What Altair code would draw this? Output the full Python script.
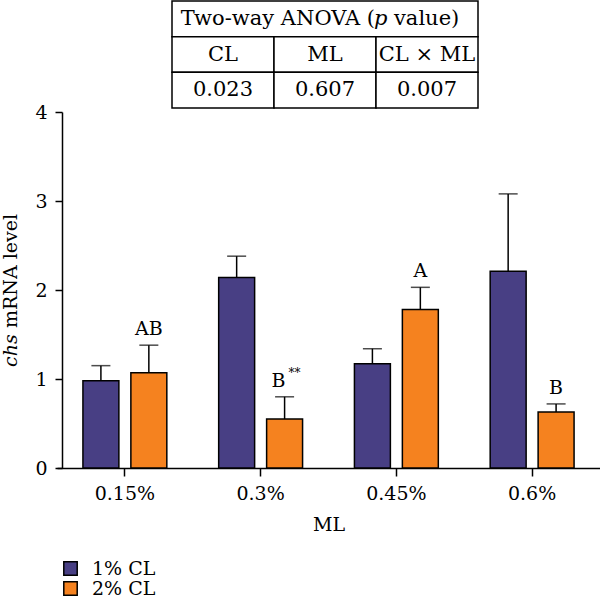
import altair as alt
import pandas as pd

# ---- data ----
ml_levels = ["0.15%", "0.3%", "0.45%", "0.6%"]
cl_groups = ["1% CL", "2% CL"]
mean_cl1 = [0.98, 2.14, 1.17, 2.21]
sem_cl1 = [0.17, 0.24, 0.17, 0.87]
mean_cl2 = [1.07, 0.55, 1.78, 0.63]
sem_cl2 = [0.31, 0.25, 0.25, 0.09]
letters_cl2 = ["AB", "B", "A", "B"]
sup_cl2 = ["", "**", "", ""]
y_ticks = [0, 1, 2, 3, 4]

anova_rows = ["title", "factor", "p"]
anova_factors = ["CL", "ML", "CL × ML"]
anova_p = ["0.023", "0.607", "0.007"]

colors = ["#483F84", "#F5821F"]
FONT = "DejaVu Serif"

rows = []
for i, ml in enumerate(ml_levels):
    rows.append({"ML": ml, "CL": cl_groups[0], "mean": mean_cl1[i],
                 "upper": mean_cl1[i] + sem_cl1[i], "letter": "", "sup": ""})
    rows.append({"ML": ml, "CL": cl_groups[1], "mean": mean_cl2[i],
                 "upper": mean_cl2[i] + sem_cl2[i], "letter": letters_cl2[i], "sup": sup_cl2[i]})
df = pd.DataFrame(rows)

x_enc = alt.X("ML:N", sort=ml_levels,
              scale=alt.Scale(paddingInner=0.382, paddingOuter=0.191),
              axis=alt.Axis(title="ML", labelAngle=0, labelFont=FONT, labelFontSize=19,
                            labelColor="black", titleFont=FONT, titleFontSize=19,
                            titleFontWeight="normal", titleColor="black",
                            tickSize=8, labelPadding=8, titlePadding=12,
                            domainColor="black", tickColor="black",
                            domainWidth=1.5, tickWidth=1.5))
xo_enc = alt.XOffset("CL:N", sort=cl_groups,
                     scale=alt.Scale(paddingInner=0.25, paddingOuter=0))
y_scale = alt.Scale(domain=[0, 4], nice=False)

base = alt.Chart(df)

bars = base.mark_bar(stroke="black", strokeWidth=1.5).encode(
    x=x_enc,
    xOffset=xo_enc,
    y=alt.Y("mean:Q", scale=y_scale,
            axis=alt.Axis(values=y_ticks, format="d", title=None, grid=False, offset=-5,
                          labelFont=FONT, labelFontSize=19, labelColor="black",
                          tickSize=7, labelPadding=8, domainColor="black",
                          tickColor="black", domainWidth=1.5, tickWidth=1.5)),
    color=alt.Color("CL:N", sort=cl_groups,
                    scale=alt.Scale(domain=cl_groups, range=colors),
                    legend=alt.Legend(title=None, orient="none", legendX=4, legendY=447,
                                      direction="vertical", symbolType="square",
                                      symbolSize=180, symbolStrokeColor="black",
                                      symbolStrokeWidth=1.5, labelFont=FONT,
                                      labelFontSize=19, labelColor="black",
                                      labelOffset=12, rowPadding=-2, padding=0)),
)

pos = dict(
    x=alt.X("ML:N", sort=ml_levels),
    xOffset=alt.XOffset("CL:N", sort=cl_groups),
)

err_rule = base.mark_rule(color="black", strokeWidth=1.5).encode(
    y=alt.Y("mean:Q", scale=y_scale), y2="upper:Q", **pos)

err_cap = base.mark_tick(color="black", thickness=1.5, size=19, orient="horizontal").encode(
    y=alt.Y("upper:Q", scale=y_scale), **pos)

plain_df = df[df["sup"] == ""]
sup_df = df[df["sup"] != ""]

letter_text = alt.Chart(plain_df).mark_text(font=FONT, fontSize=19, color="black",
                                            baseline="alphabetic", dy=-10).encode(
    y=alt.Y("upper:Q", scale=y_scale), text="letter:N", **pos)

letter_sup_base = alt.Chart(sup_df).mark_text(font=FONT, fontSize=19, color="black",
                                              baseline="alphabetic", dx=-6, dy=-10).encode(
    y=alt.Y("upper:Q", scale=y_scale), text="letter:N", **pos)

sup_text = alt.Chart(sup_df).mark_text(font=FONT, fontSize=12, color="black",
                                       baseline="alphabetic", dx=10, dy=-20).encode(
    y=alt.Y("upper:Q", scale=y_scale), text="sup:N", **pos)

# y-axis title: italic gene name + regular text
ytitle_italic = alt.Chart(pd.DataFrame({"t": ["chs"]})).mark_text(
    font=FONT, fontSize=19, fontStyle="italic", angle=270, align="left",
    baseline="alphabetic", color="black").encode(
    x=alt.value(-40), y=alt.value(255), text="t:N")
ytitle_rest = alt.Chart(pd.DataFrame({"t": ["mRNA level"]})).mark_text(
    font=FONT, fontSize=19, angle=270, align="left",
    baseline="alphabetic", color="black").encode(
    x=alt.value(-40), y=alt.value(216), text="t:N")

main = alt.layer(bars, err_rule, err_cap, letter_text, letter_sup_base, sup_text,
                 ytitle_italic, ytitle_rest)

# ---- ANOVA table ----
cells = pd.DataFrame(
    [{"col": c, "row": "factor", "txt": c} for c in anova_factors] +
    [{"col": c, "row": "p", "txt": p} for c, p in zip(anova_factors, anova_p)]
)
tx = alt.Scale(domain=anova_factors, range=[115, 421], paddingInner=0, paddingOuter=0)
ty = alt.Scale(domain=anova_rows, range=[-111, -4], paddingInner=0, paddingOuter=0)
row_enc = alt.Y("row:N", scale=ty, axis=None, sort=anova_rows)

cell_rects = alt.Chart(cells).mark_rect(fill="white", stroke="black", strokeWidth=1.5).encode(
    x=alt.X("col:N", scale=tx, axis=None, sort=anova_factors), y=row_enc)
cell_text = alt.Chart(cells).mark_text(font=FONT, fontSize=21, color="black").encode(
    x=alt.X("col:N", scale=tx, axis=None, sort=anova_factors), y=row_enc, text="txt:N")

title_df = pd.DataFrame({"row": ["title"], "a": ["Two-way ANOVA ("], "p": ["p"], "b": ["value)"]})
title_rect = alt.Chart(title_df).mark_rect(fill="white", stroke="black", strokeWidth=1.5).encode(
    x=alt.value(115), x2=alt.value(421), y=row_enc)
title_a = alt.Chart(title_df).mark_text(font=FONT, fontSize=21, color="black", align="right").encode(
    x=alt.value(318), y=row_enc, text="a:N")
title_p = alt.Chart(title_df).mark_text(font=FONT, fontSize=21, fontStyle="italic",
                                        color="black", align="left").encode(
    x=alt.value(317), y=row_enc, text="p:N")
title_b = alt.Chart(title_df).mark_text(font=FONT, fontSize=21, color="black", align="left").encode(
    x=alt.value(337), y=row_enc, text="b:N")

table = alt.layer(title_rect, cell_rects, cell_text, title_a, title_p, title_b)

chart = alt.layer(main, table).resolve_scale(
    x="independent", y="independent"
).properties(
    width=543, height=356,
    padding={"left": 57, "top": 112, "right": 0, "bottom": 137},
    autosize=alt.AutoSizeParams(type="none"),
    background="white",
).configure_view(stroke=None)

chart.save("out.html", embed_options={"renderer": "svg", "actions": False})
